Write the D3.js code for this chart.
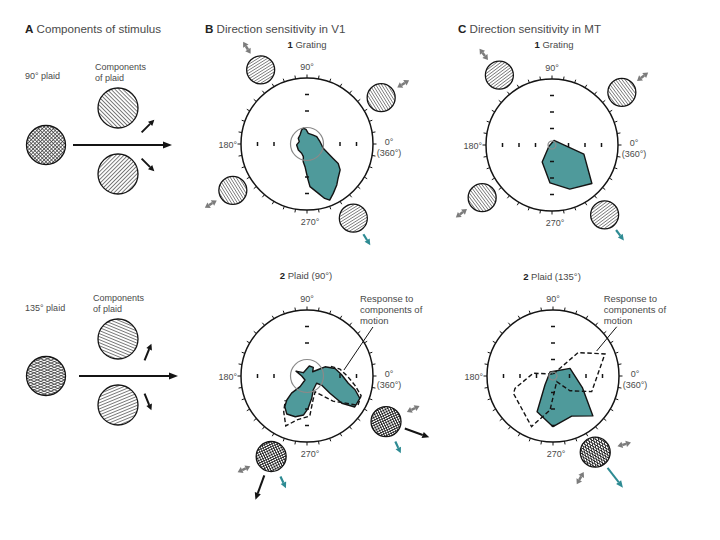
<!DOCTYPE html>
<html>
<head>
<meta charset="utf-8">
<script src="https://cdn.jsdelivr.net/npm/d3@7"></script>
<style>
  body { margin: 0; background: #fff; }
  text { font-family: "Liberation Sans", Arial, sans-serif; }
</style>
</head>
<body>
<svg id="fig" width="720" height="540"></svg>
<script>
// ---- data: polar responses as [direction (deg), response in ring units, outer ring = 4] ----
var v1Grating = [[103,0.98],[94,0.89],[83,0.65],[58,0.65],[37,0.74],[10,0.80],[356,0.89],[345,1.02],
  [336,1.41],[331,1.81],[328,2.23],[322,2.55],[312,2.81],[306,3.07],[298,3.39],[292,3.67],[288,3.47],
  [283,3.07],[274,2.59],[271,2.06],[265,1.38],[258,1.10],[254,0.80],[240,0.65],[215,0.64],[185,0.63],
  [163,0.49],[147,0.63],[128,0.69],[111,0.91]];
var v1Plaid = [[156,0.73],[138,0.30],[77,0.62],[54,0.65],[37,0.43],[28,1.00],[27,1.23],[15,1.76],
  [2,2.10],[350,2.54],[344,3.03],[337,3.48],[327,3.45],[322,2.68],[323,1.74],[328,1.04],[323,0.73],
  [294,0.93],[282,1.38],[272,1.96],[265,2.37],[254,2.57],[242,2.61],[234,2.29],[230,1.90],[228,1.40],
  [237,0.77],[243,0.27],[180,0.32]];
var v1PlaidComponents = [[22,1.56],[12,2.04],[359,2.48],[349,2.96],[340,3.49],[330,3.56],[325,2.87],
  [316,2.19],[297,1.08],[284,1.50],[274,2.43],[257,2.73],[247,3.29],[237,2.59],[228,1.97]];
var mtGrating = [[66,0.30],[344,2.01],[316,3.36],[292,2.88],[267,2.30],[240,1.19],[202,0.20]];
var mtPlaid = [[127,0.30],[24,1.13],[338,1.93],[315,3.42],[295,2.68],[270,3.07],[246,2.37],[228,0.73]];
var mtPlaidComponents = [[81,0.12],[43,2.08],[23,3.42],[338,2.53],[319,1.36],[303,0.41],[265,2.07],
  [247,3.33],[204,2.62],[198,2.42],[172,1.21],[81,0.12]];

// stimulus directions (deg)
var v1GratingDirs = [32, 122, 212, 302];
var mtGratingDirs = [37, 127, 217, 307];
var v1Preferred = 300;
var mtPreferred = 307;
var v1PlaidStimuli = [{plaid: 340, components: [25, 295]}, {plaid: 250, components: [205, 295]}];
var mtPlaidStimuli = [{plaid: 308, components: [15, 240]}];
var stimulusPlaids = [90, 135];

var ringTicksV1 = [2, 3];
var ringTicksMT = [1, 2, 3];
var outerTickDegs = d3.range(0, 360, 10);

// ---- setup ----
var svg = d3.select('#fig');
var defs = svg.append('defs');
var TEAL = '#4f9a9b', TEAL_ARROW = '#2e8b93', GRAY = '#7c7c7c', INK = '#141414', TXT = '#4a4a4a';
var R = 66;
var rScale = d3.scaleLinear().domain([0, 4]).range([0, R]);
var rad = function(d) { return d * Math.PI / 180; };
var radial = d3.lineRadial()
  .angle(function(d) { return rad(90 - d[0]); })
  .radius(function(d) { return rScale(d[1]); });

var patId = 0;
function hatch(lineDeg, spacing, sw, color, bg) {
  var id = 'hp' + (patId++);
  var p = defs.append('pattern').attr('id', id)
    .attr('patternUnits', 'userSpaceOnUse')
    .attr('width', spacing).attr('height', spacing)
    .attr('patternTransform', 'rotate(' + (-lineDeg) + ')');
  if (bg) p.append('rect').attr('width', spacing).attr('height', spacing).attr('fill', '#fff');
  p.append('line').attr('x1', 0).attr('x2', spacing)
    .attr('y1', spacing / 2).attr('y2', spacing / 2)
    .attr('stroke', color).attr('stroke-width', sw);
  return 'url(#' + id + ')';
}

// a disc of drifting grating(s); dirs = motion directions of the component gratings
function disc(g, x, y, r, dirs, spacing, sw, color) {
  dirs.forEach(function(d, i) {
    g.append('circle').attr('cx', x).attr('cy', y).attr('r', r)
      .attr('fill', hatch(d + 90, spacing, sw, color, i === 0));
  });
  g.append('circle').attr('cx', x).attr('cy', y).attr('r', r)
    .attr('fill', 'none').attr('stroke', INK).attr('stroke-width', 1.3);
}

function head(g, x, y, ang, len, hw, color) {
  var bx = x - len * Math.cos(ang), by = y - len * Math.sin(ang);
  var px = -Math.sin(ang), py = Math.cos(ang);
  g.append('polygon')
    .attr('points', [[x, y], [bx + hw * px, by + hw * py], [bx - hw * px, by - hw * py]].join(' '))
    .attr('fill', color);
  return [bx, by];
}

function arrow(g, x1, y1, x2, y2, color, width, len, hw, both) {
  var ang = Math.atan2(y2 - y1, x2 - x1);
  var e = head(g, x2, y2, ang, len, hw, color);
  var s = both ? head(g, x1, y1, ang + Math.PI, len, hw, color) : [x1, y1];
  g.append('line').attr('x1', s[0]).attr('y1', s[1]).attr('x2', e[0]).attr('y2', e[1])
    .attr('stroke', color).attr('stroke-width', width);
}

// arrow along direction deg, from distance d0 to d1 of point (x, y)
function rayArrow(g, x, y, deg, d0, d1, color, width, len, hw, both) {
  var c = Math.cos(rad(deg)), s = -Math.sin(rad(deg));
  arrow(g, x + d0 * c, y + d0 * s, x + d1 * c, y + d1 * s, color, width, len, hw, both);
}

function pt(cx, cy, deg, units) {
  var r = rScale(units);
  return [cx + r * Math.cos(rad(deg)), cy - r * Math.sin(rad(deg))];
}

function label(g, x, y, str, size, anchor, color) {
  return g.append('text').attr('x', x).attr('y', y).attr('font-size', size)
    .attr('text-anchor', anchor || 'start').attr('fill', color || TXT).text(str);
}

// ---- polar plot ----
function polarPlot(p) {
  var g = svg.append('g');
  var inner = g.append('g').attr('transform', 'translate(' + p.cx + ',' + p.cy + ')');

  inner.append('circle').attr('r', R).attr('fill', '#fff').attr('stroke', INK).attr('stroke-width', 1.5);
  inner.selectAll('.otick').data(outerTickDegs).enter().append('line')
    .attr('x1', function(d) { return R * Math.cos(rad(d)); })
    .attr('y1', function(d) { return -R * Math.sin(rad(d)); })
    .attr('x2', function(d) { return (R + 3.5) * Math.cos(rad(d)); })
    .attr('y2', function(d) { return -(R + 3.5) * Math.sin(rad(d)); })
    .attr('stroke', INK).attr('stroke-width', 1);

  inner.append('path').attr('d', radial.curve(d3.curveLinearClosed)(p.shape))
    .attr('fill', TEAL).attr('stroke', INK).attr('stroke-width', 1.4).attr('stroke-linejoin', 'round');

  if (p.dashed) {
    inner.append('path').attr('d', radial.curve(d3.curveLinear)(p.dashed))
      .attr('fill', 'none').attr('stroke', INK).attr('stroke-width', 1.4).attr('stroke-dasharray', '4.5,2.5');
  }

  inner.append('circle').attr('r', p.zeroR).attr('fill', 'none').attr('stroke', '#8a8a8a').attr('stroke-width', 1.2);

  // ring ticks on the axes
  [0, 90, 180, 270].forEach(function(a) {
    p.rings.forEach(function(k) {
      var q = [rScale(k) * Math.cos(rad(a)), -rScale(k) * Math.sin(rad(a))];
      var vert = (a === 0 || a === 180);
      inner.append('line')
        .attr('x1', q[0] - (vert ? 0 : 2)).attr('x2', q[0] + (vert ? 0 : 2))
        .attr('y1', q[1] - (vert ? 2 : 0)).attr('y2', q[1] + (vert ? 2 : 0))
        .attr('stroke', INK).attr('stroke-width', 1.5);
    });
  });

  label(g, p.cx, p.cy - R - 8, '90°', 9, 'middle');
  label(g, p.cx - R - 4, p.cy + 4, '180°', 9, 'end');
  label(g, p.cx + R + 16, p.cy + 1, '0°', 9, 'middle');
  label(g, p.cx + R + 16, p.cy + 12, '(360°)', 9, 'middle');
  label(g, p.cx + 3, p.cy + R + 15, '270°', 9, 'middle');

  var sub = g.append('text').attr('x', p.cx + p.subDx).attr('y', p.cy + p.subDy).attr('font-size', 9.5)
    .attr('text-anchor', 'middle').attr('fill', TXT);
  sub.append('tspan').attr('font-weight', 'bold').attr('fill', '#222').text(p.num);
  sub.append('tspan').text('  ' + p.sub);

  if (p.leader) {
    var a = pt(p.cx, p.cy, p.leader[0][0], p.leader[0][1]);
    var b = pt(p.cx, p.cy, p.leader[1][0], p.leader[1][1]);
    g.append('line').attr('x1', a[0]).attr('y1', a[1]).attr('x2', b[0]).attr('y2', b[1])
      .attr('stroke', INK).attr('stroke-width', 1);
    ['Response to', 'components of', 'motion'].forEach(function(t, i) {
      label(g, a[0] - 13, a[1] - 25 + i * 11, t, 9.5, 'start');
    });
  }
  return g;
}

// ---- panel titles ----
function title(x, letter, str) {
  var t = svg.append('text').attr('x', x).attr('y', 33).attr('font-size', 11.6).attr('fill', TXT);
  t.append('tspan').attr('font-weight', 'bold').attr('fill', '#222').text(letter);
  t.append('tspan').text('  ' + str);
}
title(25, 'A', 'Components of stimulus');
title(205, 'B', 'Direction sensitivity in V1');
title(458, 'C', 'Direction sensitivity in MT');

// ---- panel A ----
var rowsA = [
  {y: 145, x0: 73, x1: 172, ax: 148, up: -19, down: 20, tx: 95, ty: 70, plaidLabelY: 79},
  {y: 376, x0: 79, x1: 178, ax: 148, up: -24, down: 26, tx: 93, ty: 301, plaidLabelY: 311}
];
var gA = svg.append('g');
stimulusPlaids.forEach(function(deg, i) {
  var row = rowsA[i];
  var half = deg / 2;
  label(gA, 25, row.plaidLabelY, deg + '° plaid', 9);
  label(gA, row.tx, row.ty, 'Components', 9);
  label(gA, row.tx, row.ty + 11, 'of plaid', 9);
  disc(gA, 46, row.y, 19.5, [half, -half], 2.6, 0.7, '#333');
  disc(gA, 118, row.y - 37, 20, [half], 2.8, 0.7, '#444');
  disc(gA, 118, row.y + 29, 20, [-half], 2.8, 0.7, '#444');
  arrow(gA, row.x0, row.y, row.x1, row.y, INK, 2, 9, 3.5, false);
  [[half, row.up], [-half, row.down]].forEach(function(c) {
    var cx = row.ax, cy = row.y + c[1];
    var dx = 9 * Math.cos(rad(c[0])), dy = -9 * Math.sin(rad(c[0]));
    arrow(gA, cx - dx, cy - dy, cx + dx, cy + dy, INK, 2, 6, 3, false);
  });
});

// ---- panels B and C ----
var panels = [
  {cx: 307, cy: 144, shape: v1Grating, rings: ringTicksV1, zeroR: rScale(1), num: '1', sub: 'Grating', subDx: 0, subDy: -96},
  {cx: 552, cy: 145, shape: mtGrating, rings: ringTicksMT, zeroR: 4, num: '1', sub: 'Grating', subDx: 2, subDy: -97},
  {cx: 307, cy: 376, shape: v1Plaid, dashed: v1PlaidComponents, rings: ringTicksV1, zeroR: rScale(1),
    num: '2', sub: 'Plaid (90°)', subDx: -1, subDy: -97, leader: [[36.6, 4.98], [9.2, 2.27]]},
  {cx: 553, cy: 376, shape: mtPlaid, dashed: mtPlaidComponents, rings: ringTicksMT, zeroR: 4,
    num: '2', sub: 'Plaid (135°)', subDx: -1, subDy: -96, leader: [[37.7, 4.88], [29.8, 3.05]]}
];
panels.forEach(polarPlot);

// grating stimuli around the grating plots
[[panels[0], v1GratingDirs, v1Preferred], [panels[1], mtGratingDirs, mtPreferred]].forEach(function(set) {
  var p = set[0], g = svg.append('g');
  set[1].forEach(function(d) {
    var c = pt(p.cx, p.cy, d, 5.3);
    disc(g, c[0], c[1], 14, [d], 2.5, 0.6, '#444');
    var pref = Math.abs(d - set[2]) < 10;
    if (pref) rayArrow(g, c[0], c[1], d, 19, 32, TEAL_ARROW, 2.2, 6, 3, false);
    else rayArrow(g, c[0], c[1], d, 19, 33, GRAY, 2.5, 5, 3.2, true);
  });
});

// plaid stimuli around the plaid plots
[[panels[2], v1PlaidStimuli, v1Preferred, [[330, 5.53], [246, 5.34]]],
 [panels[3], mtPlaidStimuli, mtPreferred, [[299, 5.28]]]].forEach(function(set) {
  var p = set[0], g = svg.append('g');
  set[1].forEach(function(st, i) {
    var c = pt(p.cx, p.cy, set[3][i][0], set[3][i][1]);
    disc(g, c[0], c[1], 15, st.components, 2.4, 0.8, '#222');
    var plaidPref = Math.abs(st.plaid - set[2]) < 10;
    rayArrow(g, c[0], c[1], st.plaid, 20, plaidPref ? 45 : 46, plaidPref ? TEAL_ARROW : INK, 2, 7, 3.2, false);
    st.components.forEach(function(d) {
      var pref = Math.abs(d - set[2]) < 10;
      if (pref) rayArrow(g, c[0], c[1], d, 22, 35, TEAL_ARROW, 2.2, 6, 3, false);
      else rayArrow(g, c[0], c[1], d, 23, 37, GRAY, 2.5, 5, 3.2, true);
    });
  });
});
</script>
</body>
</html>
